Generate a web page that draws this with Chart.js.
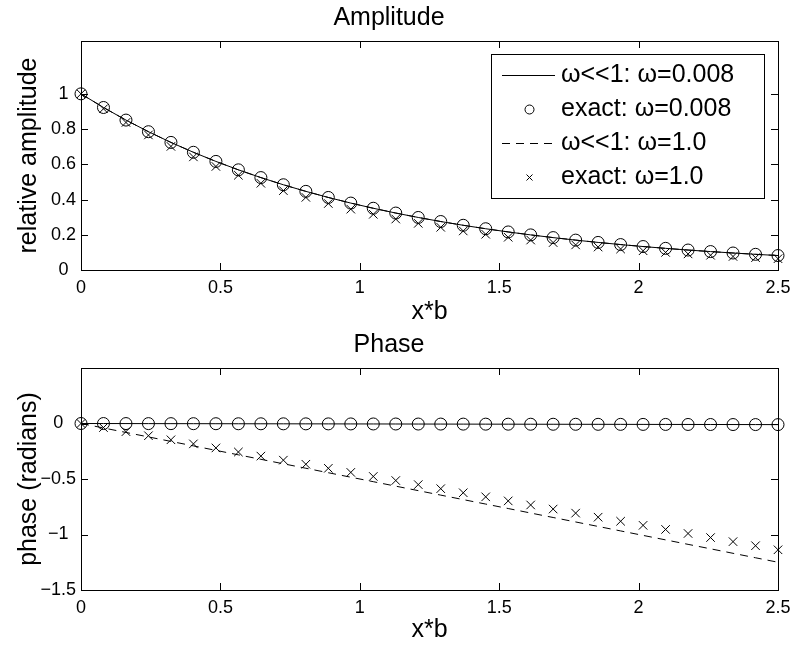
<!DOCTYPE html>
<html>
<head>
<meta charset="utf-8">
<script src="https://cdn.jsdelivr.net/npm/chart.js@4.4.1/dist/chart.umd.min.js"></script>
<style>
  html, body { margin: 0; padding: 0; background: #fff; }
  #wrap { position: relative; width: 800px; height: 647px; }
  #ampChart { position: absolute; left: 0; top: 0; }
  #phaseChart { position: absolute; left: 0; top: 330px; }
</style>
</head>
<body>
<div id="wrap">
  <canvas id="ampChart" width="800" height="330"></canvas>
  <canvas id="phaseChart" width="800" height="317"></canvas>
</div>
<script>
'use strict';

/* values, 32 samples from 0 to 2.5 */
const xb = [0, 0.0806, 0.1613, 0.2419, 0.3226, 0.4032, 0.4839, 0.5645, 0.6452, 0.7258,
    0.8065, 0.8871, 0.9677, 1.0484, 1.1290, 1.2097, 1.2903, 1.3710, 1.4516, 1.5323,
    1.6129, 1.6935, 1.7742, 1.8548, 1.9355, 2.0161, 2.0968, 2.1774, 2.2581, 2.3387,
    2.4194, 2.5];

// amplitude, w<<1 (same curve for both w)
const ampApprox = [1.0, 0.9225, 0.8510, 0.7851, 0.7243, 0.6682, 0.6164, 0.5686, 0.5246, 0.4839,
    0.4464, 0.4118, 0.3799, 0.3505, 0.3233, 0.2983, 0.2752, 0.2538, 0.2342, 0.2160,
    0.1993, 0.1839, 0.1696, 0.1565, 0.1444, 0.1332, 0.1229, 0.1133, 0.1046, 0.0965,
    0.0890, 0.0821];
// amplitude, exact w=0.008
const ampExactLow = [1.0, 0.9225, 0.8510, 0.7851, 0.7243, 0.6682, 0.6164, 0.5686, 0.5246, 0.4839,
    0.4464, 0.4118, 0.3799, 0.3505, 0.3233, 0.2983, 0.2752, 0.2538, 0.2342, 0.2160,
    0.1993, 0.1839, 0.1696, 0.1565, 0.1444, 0.1332, 0.1229, 0.1133, 0.1046, 0.0965,
    0.0890, 0.0821];
// amplitude, exact w=1.0
const ampExactHigh = [1.0, 0.9152, 0.8376, 0.7666, 0.7016, 0.6421, 0.5877, 0.5378, 0.4922, 0.4505,
    0.4123, 0.3773, 0.3453, 0.3161, 0.2893, 0.2647, 0.2423, 0.2217, 0.2029, 0.1857,
    0.1700, 0.1556, 0.1424, 0.1303, 0.1193, 0.1091, 0.0999, 0.0914, 0.0837, 0.0766,
    0.0701, 0.0641];

// phase, w=0.008 (approx and exact practically on top of each other)
const phaseLow = [0, -0.0003, -0.0006, -0.0010, -0.0013, -0.0016, -0.0019, -0.0023, -0.0026, -0.0029,
    -0.0032, -0.0035, -0.0039, -0.0042, -0.0045, -0.0048, -0.0052, -0.0055, -0.0058, -0.0061,
    -0.0065, -0.0068, -0.0071, -0.0074, -0.0077, -0.0081, -0.0084, -0.0087, -0.0090, -0.0094,
    -0.0097, -0.0100];
// phase, w<<1 w=1.0
const phaseApproxHigh = [0, -0.0403, -0.0806, -0.1210, -0.1613, -0.2016, -0.2419, -0.2823, -0.3226, -0.3629,
    -0.4032, -0.4435, -0.4839, -0.5242, -0.5645, -0.6048, -0.6452, -0.6855, -0.7258, -0.7661,
    -0.8065, -0.8468, -0.8871, -0.9274, -0.9677, -1.0081, -1.0484, -1.0887, -1.1290, -1.1694,
    -1.2097, -1.25];
// phase, exact w=1.0
const phaseExactHigh = [0, -0.0367, -0.0734, -0.1101, -0.1468, -0.1835, -0.2202, -0.2569, -0.2936, -0.3303,
    -0.3670, -0.4037, -0.4404, -0.4771, -0.5138, -0.5505, -0.5872, -0.6239, -0.6606, -0.6973,
    -0.7340, -0.7707, -0.8074, -0.8441, -0.8808, -0.9175, -0.9542, -0.9909, -1.0276, -1.0643,
    -1.1010, -1.1378];

const xTicks = [0, 0.5, 1, 1.5, 2, 2.5];
const ampTicks = [0, 0.2, 0.4, 0.6, 0.8, 1];
const phaseTicks = [-1.5, -1, -0.5, 0];
const legendLabels = ['ω<<1: ω=0.008', 'exact: ω=0.008', 'ω<<1: ω=1.0', 'exact: ω=1.0'];

const FONT = '"Liberation Sans", Arial, Helvetica, sans-serif';
Chart.defaults.color = '#000';
Chart.defaults.font.family = FONT;

function pts(ys) {
    return xb.map(function(x, i) { return {x: x, y: ys[i]}; });
}

function makeSets(lowLine, lowExact, highLine, highExact) {
    return [
        {label: legendLabels[0], data: pts(lowLine), showLine: true, borderColor: '#000',
            borderWidth: 1, pointRadius: 0, order: 4},
        {label: legendLabels[1], data: pts(lowExact), showLine: false, pointStyle: 'circle',
            pointRadius: 6, pointBorderWidth: 1, borderColor: '#000', backgroundColor: 'rgba(0,0,0,0)', order: 3},
        {label: legendLabels[2], data: pts(highLine), showLine: true, borderColor: '#000',
            borderWidth: 1, borderDash: [8, 6], pointRadius: 0, order: 2},
        {label: legendLabels[3], data: pts(highExact), showLine: false, pointStyle: 'crossRot',
            pointRadius: 6, pointBorderWidth: 1, borderColor: '#000', backgroundColor: 'rgba(0,0,0,0)', order: 1}
    ];
}

function fmt(v) {
    return String(v).replace('-', '\u2212');
}

function makeScales(yMin, yMax, yTicks, yTitle, xHeight, xTitlePad) {
    return {
        x: {
            type: 'linear', min: 0, max: 2.5,
            afterBuildTicks: function(s) { s.ticks = xTicks.map(function(v) { return {value: v}; }); },
            afterFit: function(s) { s.height = xHeight; },
            grid: {display: false, drawTicks: false}, border: {display: false},
            ticks: {autoSkip: false, maxRotation: 0, padding: 7, font: {size: 18}, callback: fmt},
            title: {display: true, text: 'x*b', font: {size: 25}, padding: {top: 0, bottom: xTitlePad}}
        },
        y: {
            type: 'linear', min: yMin, max: yMax,
            afterBuildTicks: function(s) { s.ticks = yTicks.map(function(v) { return {value: v}; }); },
            afterFit: function(s) { s.width = 81; },
            grid: {display: false, drawTicks: false}, border: {display: false},
            ticks: {autoSkip: false, padding: 5, crossAlign: 'center', font: {size: 18}, callback: fmt},
            title: {display: true, text: yTitle, font: {size: 25}, padding: {top: 14, bottom: 0}}
        }
    };
}

/* axes box with inward ticks on all four sides, like the original */
const boxPlugin = {
    id: 'boxPlugin',
    afterDraw: function(chart) {
        const ctx = chart.ctx;
        const a = chart.chartArea;
        const sx = chart.scales.x, sy = chart.scales.y;
        const len = 7;
        ctx.save();
        ctx.strokeStyle = '#000';
        ctx.lineWidth = 1;
        ctx.strokeRect(Math.round(a.left) + 0.5, Math.round(a.top) + 0.5,
            Math.round(a.right - a.left), Math.round(a.bottom - a.top));
        ctx.beginPath();
        sx.ticks.forEach(function(t) {
            const px = Math.round(sx.getPixelForValue(t.value)) + 0.5;
            ctx.moveTo(px, a.bottom); ctx.lineTo(px, a.bottom - len);
            ctx.moveTo(px, a.top); ctx.lineTo(px, a.top + len);
        });
        sy.ticks.forEach(function(t) {
            const py = Math.round(sy.getPixelForValue(t.value)) + 0.5;
            ctx.moveTo(a.left, py); ctx.lineTo(a.left + len, py);
            ctx.moveTo(a.right, py); ctx.lineTo(a.right - len, py);
        });
        ctx.stroke();
        ctx.restore();
    }
};

/* legend box inside the amplitude axes, top right */
const insideLegend = {
    id: 'insideLegend',
    afterDraw: function(chart) {
        const ctx = chart.ctx;
        const a = chart.chartArea;
        const boxW = 273, boxH = 144;
        const left = Math.round(a.right - 14 - boxW), top = Math.round(a.top + 13);
        ctx.save();
        ctx.fillStyle = '#fff';
        ctx.fillRect(left, top, boxW, boxH);
        ctx.strokeStyle = '#000';
        ctx.lineWidth = 1;
        ctx.strokeRect(left + 0.5, top + 0.5, boxW, boxH);
        ctx.font = '25px ' + FONT;
        ctx.textBaseline = 'middle';
        ctx.fillStyle = '#000';
        chart.data.datasets.forEach(function(ds, i) {
            const cy = Math.round(top + 21 + i * 34) + 0.5;
            const x0 = left + 11, x1 = left + 64, mx = Math.round((x0 + x1) / 2) + 0.5;
            ctx.beginPath();
            if (ds.showLine) {
                ctx.setLineDash(ds.borderDash || []);
                ctx.moveTo(x0, cy); ctx.lineTo(x1, cy);
            } else if (ds.pointStyle === 'circle') {
                ctx.setLineDash([]);
                ctx.arc(mx, cy, 4.5, 0, Math.PI * 2);
            } else {
                ctx.setLineDash([]);
                ctx.moveTo(mx - 3, cy - 3); ctx.lineTo(mx + 3, cy + 3);
                ctx.moveTo(mx + 3, cy - 3); ctx.lineTo(mx - 3, cy + 3);
            }
            ctx.stroke();
            ctx.fillText(ds.label, left + 70, cy);
        });
        ctx.restore();
    }
};

new Chart(document.getElementById('ampChart'), {
    type: 'scatter',
    data: {datasets: makeSets(ampApprox, ampExactLow, ampApprox, ampExactHigh)},
    options: {
        responsive: false, animation: false, devicePixelRatio: 1,
        clip: false,
        layout: {padding: {left: 0, right: 22, top: 0, bottom: 0}},
        scales: makeScales(0, 1.3, ampTicks, 'relative amplitude', 60, 2.5),
        plugins: {
            legend: {display: false},
            tooltip: {enabled: false},
            title: {display: true, text: 'Amplitude', font: {size: 25, weight: 'normal'},
                padding: {top: 3, bottom: 8}}
        }
    },
    plugins: [boxPlugin, insideLegend]
});

new Chart(document.getElementById('phaseChart'), {
    type: 'scatter',
    data: {datasets: makeSets(phaseLow, phaseLow, phaseApproxHigh, phaseExactHigh)},
    options: {
        responsive: false, animation: false, devicePixelRatio: 1,
        clip: false,
        layout: {padding: {left: 0, right: 22, top: 0, bottom: 0}},
        scales: makeScales(-1.5, 0.5, phaseTicks, 'phase (radians)', 57, 2),
        plugins: {
            legend: {display: false},
            tooltip: {enabled: false},
            title: {display: true, text: 'Phase', font: {size: 25, weight: 'normal'},
                padding: {top: 0, bottom: 8}}
        }
    },
    plugins: [boxPlugin]
});
</script>
</body>
</html>
